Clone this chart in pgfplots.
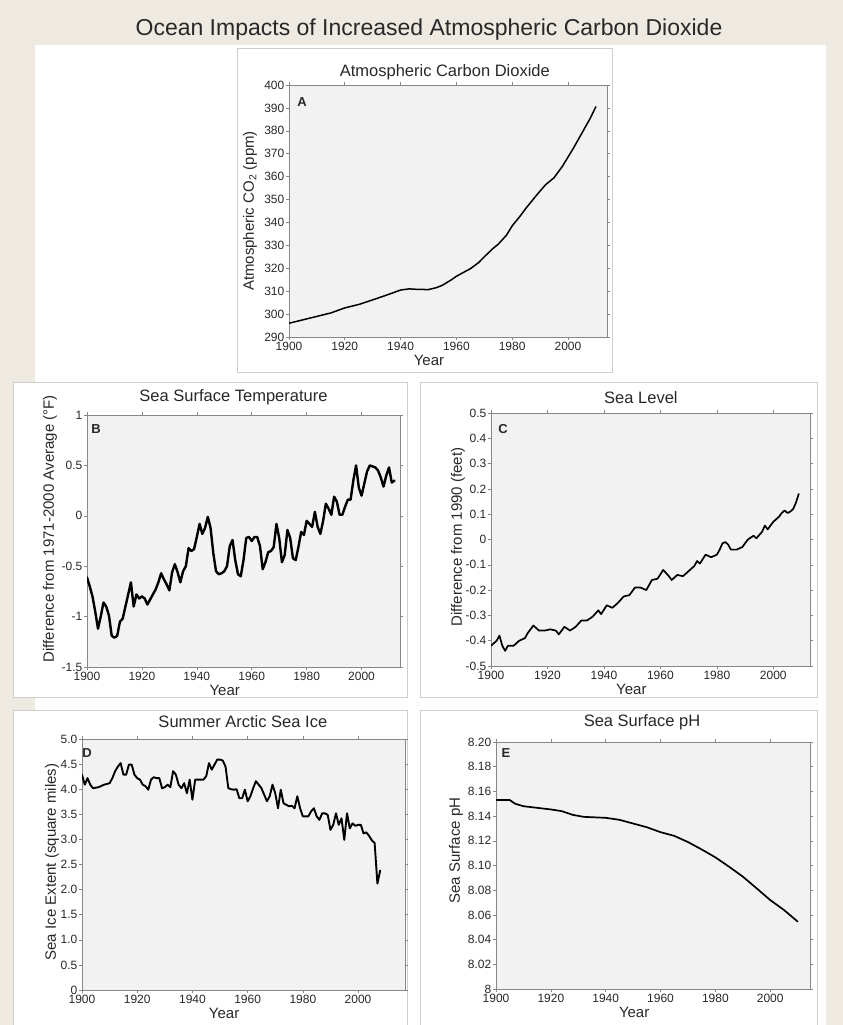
\documentclass[border=0pt]{standalone}
\usepackage{fontspec}
\setmainfont{Liberation Sans}
\usepackage{pgfplots}
\pgfplotsset{compat=1.18}

\definecolor{beige}{RGB}{238,234,226}
\definecolor{boxgray}{RGB}{205,205,205}
\definecolor{axbg}{RGB}{242,242,242}
\definecolor{axline}{RGB}{135,135,135}
\definecolor{txt}{RGB}{40,40,40}

\pgfplotsset{
  curve/.style={black, no markers, line join=round, line cap=round, line width=#1},
  curve/.default=1.5pt,
  panel/.style={
    scale only axis, anchor=north west,
    xmin=1900,
    xtick={1900,1920,1940,1960,1980,2000},
    xticklabels={1900,1920,1940,1960,1980,2000},
    /pgf/number format/assume math mode=true,
    axis background/.style={fill=axbg},
    axis line style={draw=axline},
    tick style={draw=axline, line width=0.6pt},
    tick align=outside, major tick length=3pt,
    ticklabel style={font=\fontsize{12}{12}\selectfont, text=txt},
    yticklabel style={inner sep=1.5pt},
    xticklabel style={inner sep=1.5pt},
    xlabel={Year},
    xlabel style={at={(axis description cs:0.44,0)}, anchor=center, yshift=-23pt,
                  font=\fontsize{15}{15}\selectfont, text=txt},
    ylabel style={font=\fontsize{15}{15}\selectfont, text=txt, anchor=center},
    title style={font=\fontsize{16.5}{16.5}\selectfont, text=txt, anchor=base},
  }
}

\begin{document}
\begin{tikzpicture}
\useasboundingbox (0,0) rectangle (843pt,-1025pt);
\fill[beige] (0,0) rectangle (843pt,-1025pt);
\fill[white] (35pt,-45pt) rectangle (826pt,-1025pt);
\draw[boxgray, fill=white] (237pt,-48pt) rectangle (612pt,-372pt);
\draw[boxgray, fill=white] (13pt,-382pt) rectangle (407pt,-697pt);
\draw[boxgray, fill=white] (420pt,-382pt) rectangle (817pt,-697pt);
\draw[boxgray, fill=white] (13pt,-710pt) rectangle (407pt,-1030pt);
\draw[boxgray, fill=white] (420pt,-710pt) rectangle (817pt,-1030pt);

\node[anchor=base, font=\fontsize{23}{23}\selectfont, text=txt] at (429pt,-36pt)
  {Ocean Impacts of Increased Atmospheric Carbon Dioxide};

% A: atmospheric CO2
\begin{axis}[panel, at={(289pt,-85pt)}, width=318pt, height=252pt,
  xmax=2014, ymin=290, ymax=400, ytick={290,300,...,400},
  title={Atmospheric Carbon Dioxide},
  title style={at={(axis description cs:0.49,1)}, yshift=3pt},
  ylabel={Atmospheric CO\textsubscript{2} (ppm)},
  ylabel style={at={(axis description cs:0,0.5)}, yshift=39pt}]
\addplot[curve=1.5pt] table {
1900 296.0
1905 297.5
1910 299.0
1915 300.5
1920 302.7
1925 304.2
1930 306.2
1935 308.3
1940 310.5
1943 311.0
1946 310.8
1950 310.7
1953 311.6
1955 312.6
1958 314.8
1960 316.5
1963 318.5
1965 319.8
1968 322.5
1970 325.0
1973 328.5
1975 330.5
1978 334.5
1980 338.5
1983 343.0
1985 346.3
1988 350.8
1990 353.7
1992 356.5
1995 359.5
1998 364.5
2000 368.5
2002 372.5
2005 379.0
2008 385.5
2010 390.5
};
\end{axis}
\node[font=\fontsize{13}{13}\bfseries, text=txt] at (302pt,-102pt) {A};

% B: sea surface temperature
\begin{axis}[panel, at={(87pt,-415pt)}, width=313pt, height=252pt,
  xmax=2014, ymin=-1.5, ymax=1,
  ytick={-1.5,-1,-0.5,0,0.5,1}, yticklabels={-1.5,-1,-0.5,0,0.5,1},
  title={Sea Surface Temperature},
  title style={at={(axis description cs:0.468,1)}, yshift=8pt},
  ylabel={Difference from 1971-2000 Average (°F)},
  ylabel style={at={(axis description cs:0,0.548)}, yshift=37pt}]
\addplot[curve=2.4pt] table {
1900 -0.61
1901 -0.70
1902 -0.80
1903 -0.95
1904 -1.12
1905 -1.00
1906 -0.86
1907 -0.90
1908 -0.99
1909 -1.19
1910 -1.21
1911 -1.19
1912 -1.05
1913 -1.02
1914 -0.90
1915 -0.78
1916 -0.66
1917 -0.90
1918 -0.78
1919 -0.82
1920 -0.80
1921 -0.82
1922 -0.88
1923 -0.83
1924 -0.78
1925 -0.73
1926 -0.66
1927 -0.57
1928 -0.63
1929 -0.68
1930 -0.74
1931 -0.56
1932 -0.48
1933 -0.56
1934 -0.66
1935 -0.55
1936 -0.50
1937 -0.32
1938 -0.35
1939 -0.33
1940 -0.21
1941 -0.08
1942 -0.18
1943 -0.12
1944 -0.01
1945 -0.12
1946 -0.37
1947 -0.55
1948 -0.58
1949 -0.57
1950 -0.55
1951 -0.50
1952 -0.30
1953 -0.24
1954 -0.44
1955 -0.58
1956 -0.60
1957 -0.44
1958 -0.22
1959 -0.21
1960 -0.25
1961 -0.21
1962 -0.21
1963 -0.30
1964 -0.53
1965 -0.46
1966 -0.36
1967 -0.35
1968 -0.31
1969 -0.08
1970 -0.22
1971 -0.46
1972 -0.39
1973 -0.14
1974 -0.22
1975 -0.42
1976 -0.44
1977 -0.31
1978 -0.16
1979 -0.19
1980 -0.05
1981 -0.08
1982 -0.11
1983 0.04
1984 -0.11
1985 -0.18
1986 -0.05
1987 0.12
1988 0.07
1989 0.01
1990 0.19
1991 0.14
1992 0.01
1993 0.01
1994 0.09
1995 0.16
1996 0.16
1997 0.35
1998 0.50
1999 0.28
2000 0.20
2001 0.32
2002 0.44
2003 0.50
2004 0.49
2005 0.48
2006 0.45
2007 0.38
2008 0.29
2009 0.40
2010 0.48
2011 0.33
2012 0.35
};
\end{axis}
\node[font=\fontsize{13}{13}\bfseries, text=txt] at (96pt,-429pt) {B};

% C: sea level
\begin{axis}[panel, at={(491pt,-413pt)}, width=319pt, height=253pt,
  xmax=2013, ymin=-0.5, ymax=0.5,
  ytick={-0.5,-0.4,-0.3,-0.2,-0.1,0,0.1,0.2,0.3,0.4,0.5},
  yticklabels={-0.5,-0.4,-0.3,-0.2,-0.1,0,0.1,0.2,0.3,0.4,0.5},
  title={Sea Level},
  title style={at={(axis description cs:0.47,1)}, yshift=4pt},
  ylabel={Difference from 1990 (feet)},
  ylabel style={at={(axis description cs:0,0.51)}, yshift=33pt}]
\addplot[curve=1.7pt] table {
1900 -0.42
1902 -0.40
1903 -0.38
1904 -0.42
1905 -0.44
1906 -0.42
1908 -0.42
1910 -0.40
1912 -0.39
1913 -0.37
1915 -0.34
1917 -0.36
1919 -0.36
1921 -0.355
1923 -0.36
1924 -0.375
1926 -0.345
1928 -0.36
1930 -0.345
1932 -0.32
1934 -0.32
1936 -0.305
1938 -0.28
1939 -0.295
1941 -0.26
1943 -0.27
1945 -0.25
1947 -0.225
1949 -0.22
1951 -0.19
1953 -0.19
1955 -0.20
1957 -0.16
1959 -0.155
1961 -0.12
1963 -0.145
1964 -0.16
1966 -0.14
1968 -0.145
1970 -0.125
1972 -0.105
1973 -0.085
1974 -0.095
1976 -0.06
1978 -0.07
1980 -0.06
1981 -0.04
1982 -0.015
1983 -0.01
1984 -0.02
1985 -0.04
1987 -0.04
1989 -0.03
1991 0.0
1993 0.015
1994 0.005
1996 0.03
1997 0.055
1998 0.04
2000 0.07
2001 0.08
2002 0.09
2003 0.105
2004 0.115
2005 0.105
2006 0.11
2007 0.12
2008 0.145
2009 0.18
};
\end{axis}
\node[font=\fontsize{13}{13}\bfseries, text=txt] at (503pt,-429pt) {C};

% D: summer Arctic sea ice
\begin{axis}[panel, at={(82pt,-739pt)}, width=323pt, height=251pt,
  xmax=2017, ymin=0, ymax=5,
  ytick={0,0.5,1,1.5,2,2.5,3,3.5,4,4.5,5},
  yticklabels={0,0.5,1.0,1.5,2.0,2.5,3.0,3.5,4.0,4.5,5.0},
  title={Summer Arctic Sea Ice},
  title style={at={(axis description cs:0.498,1)}, yshift=6pt},
  ylabel={Sea Ice Extent (square miles)},
  ylabel style={at={(axis description cs:0,0.51)}, yshift=30pt}]
\addplot[curve=1.9pt] table {
1900 4.29
1901 4.09
1902 4.22
1903 4.09
1904 4.02
1906 4.04
1908 4.09
1910 4.12
1911 4.22
1912 4.36
1913 4.45
1914 4.52
1915 4.29
1916 4.29
1917 4.49
1918 4.49
1919 4.29
1920 4.22
1921 4.19
1922 4.09
1923 4.06
1924 3.99
1925 4.19
1926 4.24
1927 4.22
1928 4.22
1929 4.02
1930 4.04
1931 4.09
1932 4.04
1933 4.36
1934 4.29
1935 4.09
1936 4.02
1937 4.12
1938 3.92
1939 4.19
1940 3.79
1941 4.19
1942 4.19
1944 4.19
1945 4.26
1946 4.52
1947 4.39
1948 4.49
1949 4.59
1950 4.59
1951 4.57
1952 4.45
1953 4.02
1954 4.00
1955 3.99
1956 4.00
1957 3.82
1958 3.82
1959 3.99
1960 3.76
1961 3.86
1962 4.02
1963 4.16
1964 4.09
1965 4.02
1966 3.89
1967 3.76
1968 3.86
1969 4.09
1970 3.92
1971 3.62
1972 3.99
1973 3.72
1974 3.69
1975 3.66
1976 3.67
1977 3.62
1978 3.86
1979 3.62
1980 3.46
1981 3.46
1982 3.46
1983 3.56
1984 3.62
1985 3.46
1986 3.39
1987 3.52
1988 3.52
1989 3.49
1990 3.19
1991 3.29
1992 3.52
1993 3.29
1994 3.42
1995 2.99
1996 3.52
1997 3.22
1998 3.32
1999 3.27
2000 3.29
2001 3.29
2002 3.12
2003 3.14
2004 3.07
2005 2.98
2006 2.93
2007 2.12
2008 2.38
};
\end{axis}
\node[font=\fontsize{13}{13}\bfseries, text=txt] at (87pt,-753pt) {D};

% E: sea surface pH
\begin{axis}[panel, at={(496pt,-742pt)}, width=314pt, height=247pt,
  xmax=2014.5, ymin=8, ymax=8.2,
  ytick={8,8.02,8.04,8.06,8.08,8.1,8.12,8.14,8.16,8.18,8.2},
  yticklabels={8,8.02,8.04,8.06,8.08,8.10,8.12,8.14,8.16,8.18,8.20},
  title={Sea Surface pH},
  title style={at={(axis description cs:0.465,1)}, yshift=10pt},
  ylabel={Sea Surface pH},
  ylabel style={at={(axis description cs:0,0.56)}, yshift=40pt}]
\addplot[curve=1.7pt] table {
1900 8.153
1905 8.153
1907 8.150
1910 8.148
1915 8.1467
1920 8.1454
1924 8.144
1928 8.141
1932 8.1394
1940 8.1386
1945 8.137
1950 8.134
1955 8.131
1960 8.127
1965 8.124
1970 8.119
1975 8.113
1980 8.1066
1985 8.099
1990 8.091
1995 8.0816
2000 8.072
2005 8.064
2010 8.0546
};
\end{axis}
\node[font=\fontsize{13}{13}\bfseries, text=txt] at (506pt,-753pt) {E};
\end{tikzpicture}
\end{document}
